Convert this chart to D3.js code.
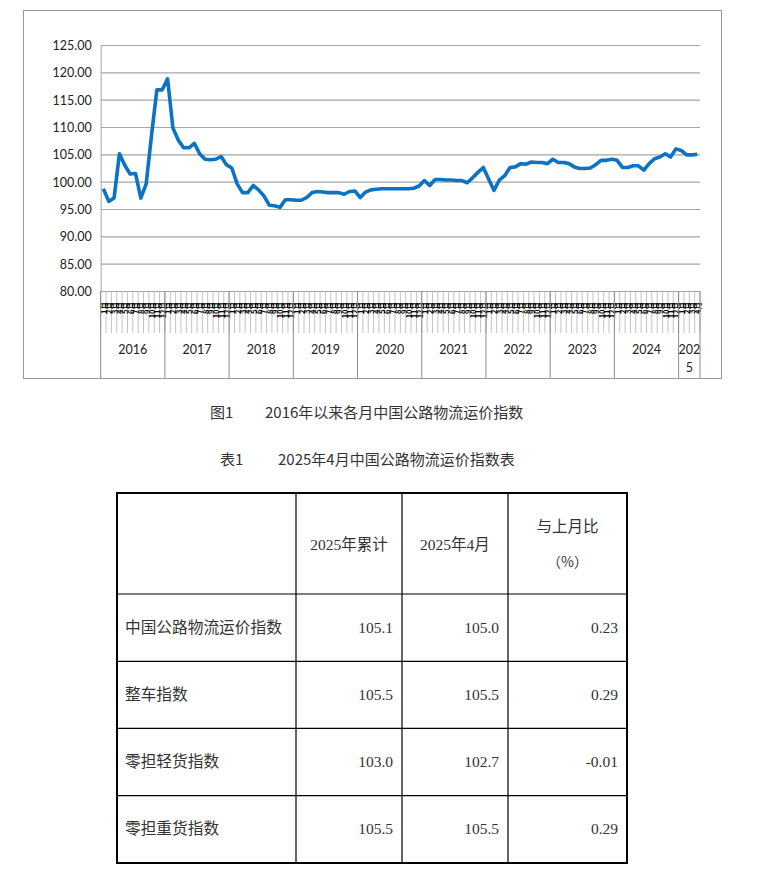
<!DOCTYPE html>
<html>
<head>
<meta charset="utf-8">
<script src="https://cdn.jsdelivr.net/npm/d3@7/dist/d3.min.js"></script>
<style>
body { margin: 0; background: #fff; }
</style>
</head>
<body>
<div id="chart"></div>
<script>
var W = 764, H = 875;

// Data
var years = [2016, 2017, 2018, 2019, 2020, 2021, 2022, 2023, 2024, 2025];
var monthsInYear = [12, 12, 12, 12, 12, 12, 12, 12, 12, 4];
var values = [
  98.7, 96.4, 97.0, 105.1, 103.0, 101.4, 101.5, 97.0, 99.6, 108.5, 116.8, 116.8,
  118.8, 109.8, 107.6, 106.2, 106.2, 107.0, 105.1, 104.1, 104.0, 104.1, 104.6, 103.1,
  102.5, 99.6, 98.0, 98.0, 99.3, 98.5, 97.4, 95.7, 95.6, 95.3, 96.7, 96.7,
  96.6, 96.6, 97.1, 98.0, 98.2, 98.1, 98.0, 98.0, 98.0, 97.7, 98.2, 98.3,
  97.1, 98.1, 98.5, 98.6, 98.7, 98.7, 98.7, 98.7, 98.7, 98.7, 98.8, 99.2,
  100.2, 99.3, 100.4, 100.4, 100.3, 100.3, 100.2, 100.2, 99.8, 100.7, 101.7, 102.6,
  100.5, 98.4, 100.3, 101.1, 102.6, 102.7, 103.3, 103.2, 103.6, 103.5, 103.5, 103.3,
  104.1, 103.5, 103.5, 103.3, 102.7, 102.4, 102.4, 102.5, 103.1, 103.9, 103.9, 104.1,
  103.9, 102.6, 102.6, 102.9, 102.9, 102.1, 103.3, 104.2, 104.5, 105.1, 104.5, 106.0,
  105.7, 104.9, 104.9, 105.0
];
var yTicks = [80, 85, 90, 95, 100, 105, 110, 115, 120, 125];

var figCaptionNo = "图1", figCaption = "2016年以来各月中国公路物流运价指数";
var tabCaptionNo = "表1", tabCaption = "2025年4月中国公路物流运价指数表";

var tableHead = ["", "2025年累计", "2025年4月", ["与上月比", "（%）"]];
var rowNames = ["中国公路物流运价指数", "整车指数", "零担轻货指数", "零担重货指数"];
var cumValues = ["105.1", "105.5", "103.0", "105.5"];
var aprValues = ["105.0", "105.5", "102.7", "105.5"];
var momValues = ["0.23", "0.29", "-0.01", "0.29"];

// month list built from years
var months = [];
years.forEach(function(yr, yi) {
  for (var m = 1; m <= monthsInYear[yi]; m++) months.push({year: yr, month: m});
});

var svg = d3.select("#chart").append("svg")
  .attr("width", W).attr("height", H);
svg.append("rect").attr("width", W).attr("height", H).attr("fill", "#fff");

// chart frame
svg.append("rect")
  .attr("x", 23.5).attr("y", 10.5)
  .attr("width", 698).attr("height", 368)
  .attr("fill", "none").attr("stroke", "#9a9a9a");

var x = d3.scaleBand().domain(d3.range(months.length)).range([100.7, 700]).padding(0);
var y = d3.scaleLinear().domain([80, 125]).range([291, 45]);

// gridlines
svg.append("g").selectAll("line")
  .data(yTicks).enter().append("line")
  .attr("x1", 100.7).attr("x2", 700)
  .attr("y1", function(d) { return y(d) + 0.5; })
  .attr("y2", function(d) { return y(d) + 0.5; })
  .attr("stroke", "#a6a6a6").attr("stroke-width", 1.2);

// y axis
var yAxis = d3.axisLeft(y).tickValues(yTicks).tickSize(0).tickPadding(9)
  .tickFormat(d3.format(".2f"));
var gy = svg.append("g").attr("transform", "translate(100.7,0.5)").call(yAxis);
gy.select(".domain").attr("stroke", "#a6a6a6");
gy.selectAll("text").attr("font-family", "Lato").attr("font-size", "12.5px").attr("fill", "#222");

// month ticks
svg.append("g").selectAll("line")
  .data(d3.range(months.length + 1)).enter().append("line")
  .attr("x1", function(i) { return 100.7 + i * x.bandwidth(); })
  .attr("x2", function(i) { return 100.7 + i * x.bandwidth(); })
  .attr("y1", 291).attr("y2", 333)
  .attr("stroke", "#b4b4b4").attr("stroke-width", 0.8);

// month labels (squeezed vertical text)
svg.append("g").selectAll("text")
  .data(months).enter().append("text")
  .attr("transform", function(d, i) {
    return "translate(" + (x(i) + x.bandwidth() / 2) + ",302) rotate(-90)";
  })
  .attr("text-anchor", "end")
  .attr("dominant-baseline", "central")
  .attr("font-family", "Noto Sans CJK SC")
  .attr("font-size", "7.5px")
  .attr("font-weight", "bold")
  .attr("fill", "#000")
  .text(function(d) { return d.month + "月"; });

// year separators and labels
var yearStart = [];
var acc = 0;
monthsInYear.forEach(function(n) { yearStart.push(acc); acc += n; });
var bounds = yearStart.concat([months.length]);
svg.append("g").selectAll("line")
  .data(bounds).enter().append("line")
  .attr("x1", function(i) { return 100.7 + i * x.bandwidth(); })
  .attr("x2", function(i) { return 100.7 + i * x.bandwidth(); })
  .attr("y1", 291).attr("y2", 378)
  .attr("stroke", "#8c8c8c").attr("stroke-width", 1);

var yl = svg.append("g").selectAll("text")
  .data(years).enter().append("text")
  .attr("x", function(d, i) {
    return 100.7 + (yearStart[i] + monthsInYear[i] / 2) * x.bandwidth();
  })
  .attr("y", 354)
  .attr("text-anchor", "middle")
  .attr("font-family", "Lato").attr("font-size", "12.5px").attr("fill", "#222");
yl.each(function(d, i) {
  var t = d3.select(this);
  if (monthsInYear[i] < 12) {
    var s = String(d);
    t.append("tspan").text(s.slice(0, 3));
    t.append("tspan").attr("x", t.attr("x")).attr("dy", 18).text(s.slice(3));
  } else {
    t.text(d);
  }
});

// line
var line = d3.line()
  .x(function(d, i) { return x(i) + x.bandwidth() / 2; })
  .y(function(d) { return y(d); });
svg.append("path").datum(values)
  .attr("d", line)
  .attr("fill", "none")
  .attr("stroke", "#0b72c4")
  .attr("stroke-width", 3.6)
  .attr("stroke-linejoin", "round");

// captions
var capFont = "Noto Sans CJK SC";
svg.append("text").attr("x", 210).attr("y", 418).attr("font-family", capFont)
  .attr("font-size", "15px").attr("fill", "#333").text(figCaptionNo);
svg.append("text").attr("x", 265).attr("y", 418).attr("font-family", capFont)
  .attr("font-size", "15px").attr("fill", "#333").text(figCaption);
svg.append("text").attr("x", 220).attr("y", 465).attr("font-family", capFont)
  .attr("font-size", "15px").attr("fill", "#333").text(tabCaptionNo);
svg.append("text").attr("x", 278).attr("y", 465).attr("font-family", capFont)
  .attr("font-size", "15px").attr("fill", "#333").text(tabCaption);

// table
var colX = [117, 296, 402, 508, 627];
var rowY = [493, 594, 661.3, 728.3, 795.7, 863];
var tg = svg.append("g");
colX.slice(1, 4).forEach(function(cx) {
  tg.append("line").attr("x1", cx).attr("x2", cx).attr("y1", rowY[0]).attr("y2", rowY[5])
    .attr("stroke", "#000").attr("stroke-width", 1.2);
});
rowY.slice(1, 5).forEach(function(ry) {
  tg.append("line").attr("x1", colX[0]).attr("x2", colX[4]).attr("y1", ry).attr("y2", ry)
    .attr("stroke", "#000").attr("stroke-width", 1.2);
});
tg.append("rect").attr("x", colX[0]).attr("y", rowY[0])
  .attr("width", colX[4] - colX[0]).attr("height", rowY[5] - rowY[0])
  .attr("fill", "none").attr("stroke", "#000").attr("stroke-width", 2);

var cjk = "'Noto Sans CJK SC'", serif = "'Liberation Serif', 'Noto Sans CJK SC'";
// header
[1, 2].forEach(function(c) {
  tg.append("text")
    .attr("x", (colX[c] + colX[c + 1]) / 2).attr("y", 550)
    .attr("text-anchor", "middle")
    .attr("font-family", serif).attr("font-size", "15.5px").attr("fill", "#333")
    .text(tableHead[c]);
});
tg.append("text").attr("x", (colX[3] + colX[4]) / 2).attr("y", 532)
  .attr("text-anchor", "middle").attr("font-family", cjk).attr("font-size", "15.5px")
  .attr("fill", "#333").text(tableHead[3][0]);
tg.append("text").attr("x", (colX[3] + colX[4]) / 2).attr("y", 567)
  .attr("text-anchor", "middle").attr("font-family", cjk).attr("font-size", "14px")
  .attr("fill", "#333").text(tableHead[3][1]);

// body
rowNames.forEach(function(name, r) {
  var cy = (rowY[r + 1] + rowY[r + 2]) / 2 + 5;
  tg.append("text").attr("x", colX[0] + 8).attr("y", cy)
    .attr("font-family", cjk).attr("font-size", "15.7px").attr("fill", "#333").text(name);
  [cumValues, aprValues, momValues].forEach(function(arr, c) {
    tg.append("text").attr("x", colX[c + 2] - 9).attr("y", cy)
      .attr("text-anchor", "end")
      .attr("font-family", serif).attr("font-size", "15.5px").attr("fill", "#333")
      .text(arr[r]);
  });
});
</script>
</body>
</html>
